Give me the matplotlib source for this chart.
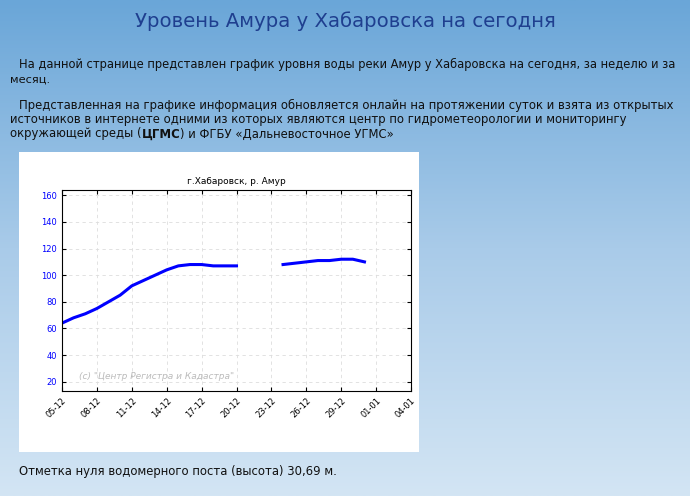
import numpy as np
import matplotlib
matplotlib.use("Agg")
import matplotlib.pyplot as plt
from matplotlib.patches import Rectangle

# days since 05-12
days_a = [0, 1, 2, 3, 4, 5, 6, 7, 8, 9, 10, 11, 12, 13, 14, 15]
level_a = [64, 68, 71, 75, 80, 85, 92, 96, 100, 104, 107, 108, 108, 107, 107, 107]
days_b = [19, 20, 21, 22, 23, 24, 25, 26]
level_b = [108, 109, 110, 111, 111, 112, 112, 110]
tick_days = [0, 3, 6, 9, 12, 15, 18, 21, 24, 27, 30]
tick_labels = ["05-12", "08-12", "11-12", "14-12", "17-12", "20-12",
               "23-12", "26-12", "29-12", "01-01", "04-01"]

W, H = 690, 496
fig = plt.figure(figsize=(W / 100, H / 100), dpi=100)

# page background gradient
bg = fig.add_axes([0, 0, 1, 1])
grad = np.linspace(0, 1, 256)[:, None]
cmap = matplotlib.colors.LinearSegmentedColormap.from_list("bg", ["#6aa6d8", "#a9cbe9", "#d3e5f4"])
bg.imshow(grad, aspect="auto", cmap=cmap, extent=[0, W, H, 0])
bg.set_xlim(0, W)
bg.set_ylim(H, 0)
bg.axis("off")
renderer = fig.canvas.get_renderer()


def fit_text(x, y, s, width, **kw):
    # scale font so the line spans the same width as in the reference
    t = bg.text(x, y, s, fontsize=10, va="center", color="#111111", **kw)
    w = t.get_window_extent(renderer).width
    t.set_fontsize(10 * width / w)
    return t


bg.text(345, 21, "Уровень Амура у Хабаровска на сегодня", ha="center", va="center",
        fontsize=14.2, color="#1f3f8f")
fit_text(19, 64, "На данной странице представлен график уровня воды реки Амур у Хабаровска на сегодня, за неделю и за", 661)
fs = fit_text(19, 105, "Представленная на графике информация обновляется онлайн на протяжении суток и взята из открытых", 653).get_fontsize()
fit_text(10, 80, "месяц.", 40)
txt = dict(fontsize=fs, color="#111111", va="center")
bg.text(10, 120, "источников в интернете одними из которых являются центр по гидрометеорологии и мониторингу", **txt)
x = 10
for s, wgt in [("окружающей среды (", "normal"), ("ЦГМС", "bold"), (") и ФГБУ «Дальневосточное УГМС»", "normal")]:
    t = bg.text(x, 134, s, fontweight=wgt, **txt)
    x += t.get_window_extent(renderer).width
bg.text(19, 471, "Отметка нуля водомерного поста (высота) 30,69 м.", **txt)
bg.add_patch(Rectangle((19, 152), 400, 300, facecolor="white", edgecolor="none"))

ax = fig.add_axes([62 / W, (H - 391) / H, 349 / W, 201 / H])
ax.plot(days_a, level_a, color="blue", lw=2.2)
ax.plot(days_b, level_b, color="blue", lw=2.2)
ax.set_xlim(0, 30)
ax.set_ylim(13, 164)
ax.set_yticks(range(20, 161, 20))
ax.set_xticks(tick_days)
ax.set_xticklabels(tick_labels, rotation=45, ha="right", rotation_mode="anchor")
ax.tick_params(labelsize=6, direction="in", length=3, top=True, right=True)
for lab in ax.get_yticklabels():
    lab.set_color("blue")
ax.grid(True, ls=(0, (4, 4)), color="#dddddd", lw=0.6)
ax.set_title("г.Хабаровск, р. Амур", fontsize=6.5, pad=4)
ax.text(1.5, 24, '(c) "Центр Регистра и Кадастра"', fontsize=6.5, style="italic",
        color="#bbbbbb", va="center")

fig.savefig("out.png", dpi=100)
